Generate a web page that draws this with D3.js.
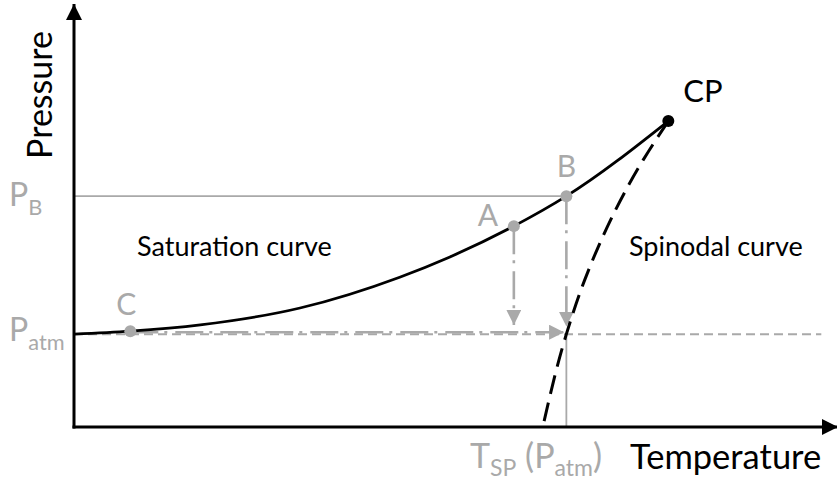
<!DOCTYPE html>
<html>
<head>
<meta charset="utf-8">
<script src="https://cdn.jsdelivr.net/npm/d3@7"></script>
<style>
  html, body { margin: 0; padding: 0; background: #fff; }
  svg { display: block; }
  text { font-family: Lato, "Open Sans", sans-serif; }
</style>
</head>
<body>
<svg id="chart" width="837" height="480"></svg>
<script>
// Saturation curve (temperature, pressure) in arbitrary units
const satT = [0, 7.4, 16.6, 29.7, 42.8, 49.4, 57.8, 64.7, 78.1];
const satP = [22.0, 22.7, 24.2, 28.2, 35.5, 40.3, 47.6, 54.7, 72.5];

// Spinodal curve, from the critical point down to the temperature axis
const spinT = [78.1, 74.8, 67.1, 64.7, 61.6];
const spinP = [72.5, 63.3, 34.8, 22.0, 0.0];

// Labelled states
const pointNames = ["C", "A", "B"];
const pointT = [7.4, 57.8, 64.7];
const pointP = [22.7, 47.6, 54.7];
const critical = { name: "CP", T: 78.1, P: 72.5 };

// Reference levels
const pAtm = 22.0;
const pB = 54.7;
const tSP = 64.7;

// Arrow end levels of the dash-dot paths
const dropEndP = [24.2, 23.8];   // A and B dropping to P_atm
const slideEndT = 64.4;          // C moving along P_atm

const axisTitles = ["Temperature", "Pressure"];

const svg = d3.select("#chart");
const gray = "#a9a9a9";

const x = d3.scaleLinear().domain([0, 100]).range([74, 835]);
const y = d3.scaleLinear().domain([0, 100]).range([427, 5]);

// Markers
const defs = svg.append("defs");
defs.append("marker")
  .attr("id", "grayHead").attr("markerUnits", "userSpaceOnUse")
  .attr("viewBox", "0 0 15 15").attr("refX", 15).attr("refY", 7.5)
  .attr("markerWidth", 15).attr("markerHeight", 15).attr("orient", "auto")
  .append("path").attr("d", "M0,0 L15,7.5 L0,15 Z").attr("fill", gray);
defs.append("marker")
  .attr("id", "axisHead").attr("markerUnits", "userSpaceOnUse")
  .attr("viewBox", "0 0 16 16").attr("refX", 16).attr("refY", 8)
  .attr("markerWidth", 16).attr("markerHeight", 16).attr("orient", "auto")
  .append("path").attr("d", "M0,0 L16,8 L0,16 Z").attr("fill", "#000");

// Reference lines
svg.append("line")
  .attr("x1", x(0)).attr("x2", x(tSP)).attr("y1", y(pB)).attr("y2", y(pB))
  .attr("stroke", gray).attr("stroke-width", 1.8);
svg.append("line")
  .attr("x1", x(0)).attr("x2", x(98.2)).attr("y1", y(pAtm)).attr("y2", y(pAtm))
  .attr("stroke", gray).attr("stroke-width", 2).attr("stroke-dasharray", "9,5");
svg.append("line")
  .attr("x1", x(tSP)).attr("x2", x(tSP)).attr("y1", y(pAtm)).attr("y2", y(0))
  .attr("stroke", gray).attr("stroke-width", 1.8);

// Dash-dot process paths
const dashDot = "28,6,3,8";
svg.append("line")
  .attr("x1", x(pointT[0])).attr("y1", y(pointP[0]) + 1)
  .attr("x2", x(slideEndT)).attr("y2", y(pointP[0]) + 1)
  .attr("stroke", gray).attr("stroke-width", 2.6).attr("stroke-dasharray", dashDot)
  .attr("marker-end", "url(#grayHead)");
[1, 2].forEach((i, k) => {
  svg.append("line")
    .attr("x1", x(pointT[i])).attr("y1", y(pointP[i]))
    .attr("x2", x(pointT[i])).attr("y2", y(dropEndP[k]))
    .attr("stroke", gray).attr("stroke-width", 2.6).attr("stroke-dasharray", dashDot)
    .attr("marker-end", "url(#grayHead)");
});

// Curves
const satLine = d3.line().x(d => x(d[0])).y(d => y(d[1])).curve(d3.curveMonotoneX);
svg.append("path")
  .attr("d", satLine(d3.zip(satT, satP)))
  .attr("fill", "none").attr("stroke", "#000").attr("stroke-width", 2.8);

const spinLine = d3.line().x(d => x(d[0])).y(d => y(d[1])).curve(d3.curveMonotoneY);
svg.append("path")
  .attr("d", spinLine(d3.zip(spinT, spinP)))
  .attr("fill", "none").attr("stroke", "#000").attr("stroke-width", 3)
  .attr("stroke-dasharray", "19,9");

// Axes (no ticks) with arrow heads
const xAxis = d3.axisBottom(x).tickValues([]).tickSizeOuter(0);
const yAxis = d3.axisLeft(y).tickValues([]).tickSizeOuter(0);
svg.append("g").attr("transform", `translate(0,${y(0)})`).call(xAxis)
  .select(".domain").remove();
svg.append("g").attr("transform", `translate(${x(0)},0)`).call(yAxis)
  .select(".domain").remove();
svg.append("line")
  .attr("x1", x(0) - 1.5).attr("x2", 838).attr("y1", y(0)).attr("y2", y(0))
  .attr("stroke", "#000").attr("stroke-width", 3).attr("marker-end", "url(#axisHead)");
svg.append("line")
  .attr("x1", x(0)).attr("x2", x(0)).attr("y1", y(0) + 1.5).attr("y2", 4)
  .attr("stroke", "#000").attr("stroke-width", 3).attr("marker-end", "url(#axisHead)");

// State points
svg.selectAll("circle.state")
  .data(pointNames.map((n, i) => ({ n, T: pointT[i], P: pointP[i] })))
  .join("circle").attr("class", "state")
  .attr("cx", d => x(d.T)).attr("cy", d => y(d.P)).attr("r", 6).attr("fill", gray);
svg.append("circle")
  .attr("cx", x(critical.T)).attr("cy", y(critical.P)).attr("r", 6).attr("fill", "#000");

// State labels
const labelOffsets = { C: [-4, -16], A: [-26, 0], B: [0, -19] };
svg.selectAll("text.state")
  .data(pointNames.map((n, i) => ({ n, T: pointT[i], P: pointP[i] })))
  .join("text").attr("class", "state")
  .attr("x", d => x(d.T) + labelOffsets[d.n][0])
  .attr("y", d => y(d.P) + labelOffsets[d.n][1])
  .attr("text-anchor", "middle").attr("font-size", 30).attr("fill", gray)
  .text(d => d.n);
svg.append("text")
  .attr("x", x(critical.T) + 15).attr("y", y(critical.P) - 19)
  .attr("font-size", 31).attr("fill", "#000").text(critical.name);

// Region labels
svg.append("text").attr("x", 137).attr("y", 256)
  .attr("font-size", 27).attr("fill", "#000").text("Saturation curve");
svg.append("text").attr("x", 629).attr("y", 256)
  .attr("font-size", 27).attr("fill", "#000").text("Spinodal curve");

// Axis titles
svg.append("text").attr("x", 630).attr("y", 469)
  .attr("font-size", 34.5).attr("fill", "#000").text(axisTitles[0]);
svg.append("text")
  .attr("transform", "translate(52,95) rotate(-90)")
  .attr("text-anchor", "middle")
  .attr("font-size", 34).attr("fill", "#000").text(axisTitles[1]);

// Level labels with subscripts
function subLabel(px, py, main, sub, size) {
  const t = svg.append("text").attr("x", px).attr("y", py)
    .attr("font-size", size).attr("fill", gray);
  t.append("tspan").text(main);
  t.append("tspan").attr("font-size", size * 0.68).attr("dy", 9).text(sub);
  return t;
}
subLabel(9, y(pB) + 10, "P", "B", 32);
subLabel(9, y(pAtm) + 7, "P", "atm", 32);

const tl = svg.append("text").attr("x", 470).attr("y", 468)
  .attr("font-size", 34).attr("fill", gray);
tl.append("tspan").text("T");
tl.append("tspan").attr("font-size", 23).attr("dy", 8).text("SP");
tl.append("tspan").attr("dy", -8).text(" (P");
tl.append("tspan").attr("font-size", 23).attr("dy", 8).text("atm");
tl.append("tspan").attr("dy", -8).text(")");
</script>
</body>
</html>
